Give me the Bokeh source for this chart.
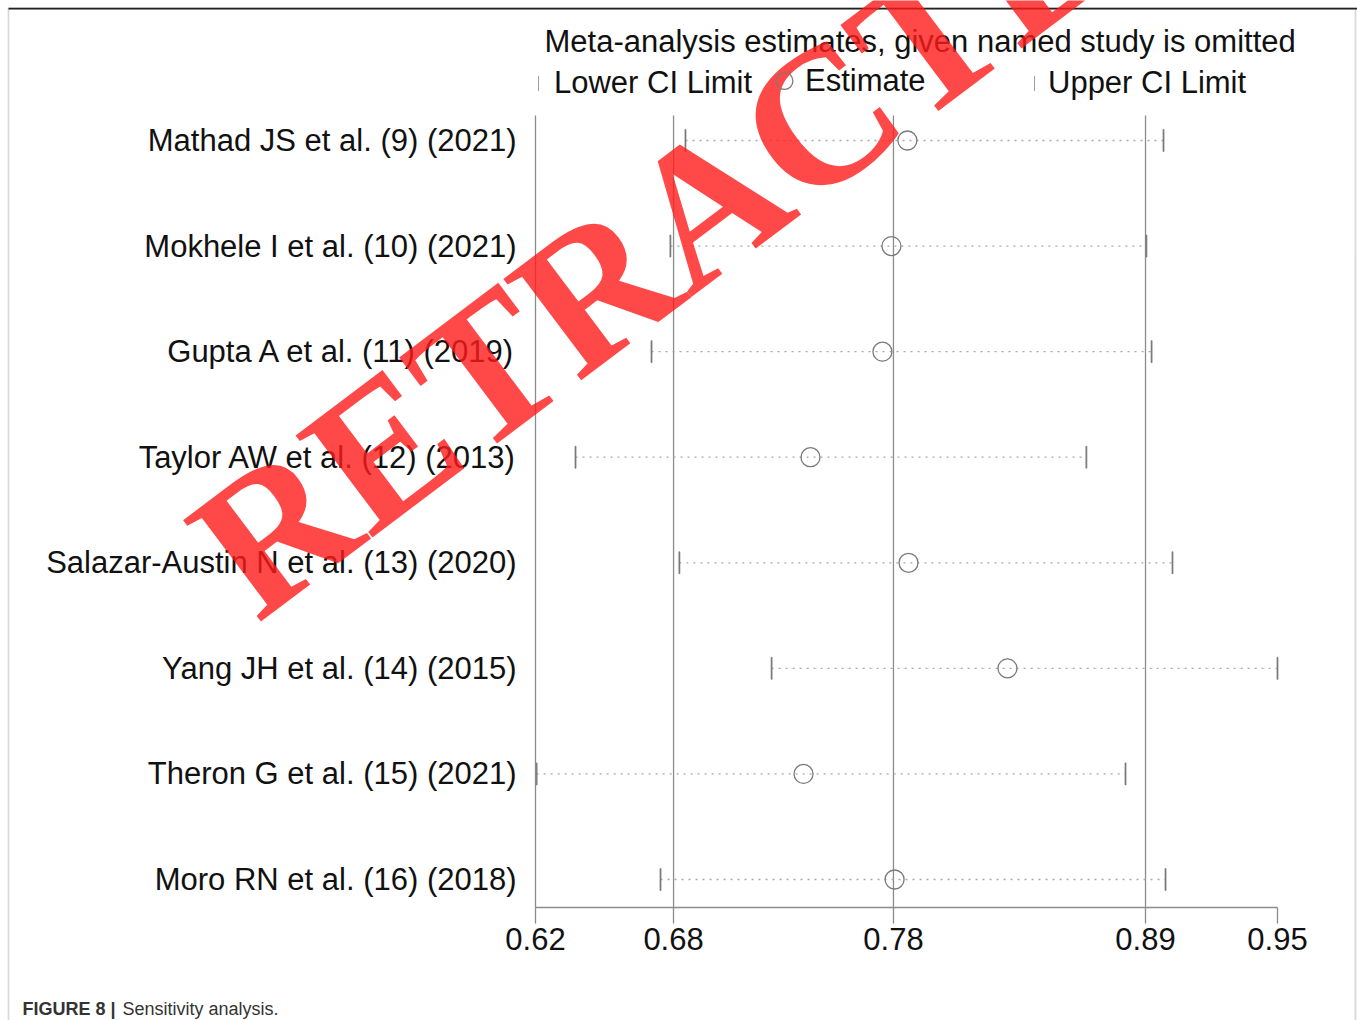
from bokeh.plotting import figure
from bokeh.models import (Range1d, FixedTicker, Label, Legend, LegendItem,
                          BoxAnnotation, ColumnDataSource)
from bokeh.embed import file_html
from bokeh.resources import INLINE

# ---------------- data ----------------
studies = [
    "Mathad JS et al. (9) (2021)",
    "Mokhele I et al. (10) (2021)",
    "Gupta A et al. (11) (2019)",
    "Taylor AW et al. (12) (2013)",
    "Salazar-Austin N et al. (13) (2020)",
    "Yang JH et al. (14) (2015)",
    "Theron G et al. (15) (2021)",
    "Moro RN et al. (16) (2018)",
]
estimate = [0.7854, 0.7783, 0.7743, 0.7423, 0.7859, 0.8299, 0.7392, 0.7797]
lower_ci = [0.6867, 0.6800, 0.6716, 0.6378, 0.6840, 0.7250, 0.6205, 0.6756]
upper_ci = [0.8993, 0.8917, 0.8940, 0.8650, 0.9033, 0.9500, 0.8824, 0.9002]

overall = [0.6814, 0.7792, 0.8913]          # overall lower CI, estimate, upper CI
tick_values = [0.62, 0.6814, 0.7792, 0.8913, 0.95]
tick_labels = ["0.62", "0.68", "0.78", "0.89", "0.95"]

title_text = "Meta-analysis estimates, given named study is omitted"
caption_bold = "FIGURE 8 |"
caption_text = "Sensitivity analysis."
watermark = "RETRACTED"

# ---------------- layout (pixels) ----------------
W, H = 1357, 1020
PLOT_L, PLOT_R = 535, 1277          # x pixel of first / last tick
PLOT_T, PLOT_B = 115, 907           # y pixel of top / bottom of plot region
ROW_TOP, ROW_BOT = 140, 879         # y pixel of first / last study row

n = len(studies)
ypos = [n - i for i in range(n)]
px_x = (PLOT_R - PLOT_L) / (tick_values[-1] - tick_values[0])
px_y = (ROW_BOT - ROW_TOP) / (n - 1)
x_start = tick_values[0] - PLOT_L / px_x
x_end = tick_values[-1] + (W - PLOT_R) / px_x
y_start = 1 - (H - ROW_BOT) / px_y
y_end = n + ROW_TOP / px_y
y_plot_bot = 1 - (PLOT_B - ROW_BOT) / px_y
y_plot_top = n + (ROW_TOP - PLOT_T) / px_y
cap_half = 11 / px_y

src = ColumnDataSource(dict(
    y=ypos, est=estimate, lo=lower_ci, hi=upper_ci,
    y0=[v - cap_half for v in ypos], y1=[v + cap_half for v in ypos],
))

FONT = "Liberation Sans"
GRAY = "#8c8c8c"
CAP = "#7a7a7a"

p = figure(width=W, height=H, output_backend="svg", toolbar_location=None,
           x_range=Range1d(x_start, x_end), y_range=Range1d(y_start, y_end),
           min_border=0, min_border_left=0, min_border_right=0,
           min_border_top=0, min_border_bottom=0)
p.grid.visible = False
p.outline_line_color = None
p.background_fill_color = "white"
p.border_fill_color = "white"

# x axis
xa = p.xaxis[0]
xa.fixed_location = y_plot_bot
xa.bounds = (tick_values[0], tick_values[-1])
xa.ticker = FixedTicker(ticks=tick_values)
xa.major_label_overrides = {v: l for v, l in zip(tick_values, tick_labels)}
xa.axis_line_color = GRAY
xa.axis_line_width = 1.3
xa.major_tick_line_color = GRAY
xa.major_tick_line_width = 1.3
xa.major_tick_in = 0
xa.major_tick_out = 16
xa.minor_tick_line_color = None
xa.major_label_text_font = FONT
xa.major_label_text_font_size = "31px"
xa.major_label_text_color = "#111111"
xa.major_label_standoff = 4

# y axis (study names)
ya = p.yaxis[0]
ya.fixed_location = tick_values[0]
ya.bounds = (y_plot_bot, y_plot_top)
ya.ticker = FixedTicker(ticks=ypos)
ya.major_label_overrides = {y: s for y, s in zip(ypos, studies)}
ya.axis_line_color = GRAY
ya.axis_line_width = 1.3
ya.major_tick_line_color = None
ya.minor_tick_line_color = None
ya.major_tick_in = 0
ya.major_tick_out = 0
ya.major_label_text_font = FONT
ya.major_label_text_font_size = "31px"
ya.major_label_text_color = "#111111"
ya.major_label_standoff = 19

# reference lines at overall lower CI, estimate, upper CI
p.segment(x0=overall, x1=overall, y0=[y_plot_bot] * 3, y1=[y_plot_top] * 3,
          line_color=GRAY, line_width=1.3)

# dotted CI lines
p.segment(x0="lo", x1="hi", y0="y", y1="y", source=src,
          line_color="#a8a8a8", line_width=1.3, line_dash="2 5")

# caps
lo_r = p.vbar(x="lo", width=0.0005, bottom="y0", top="y1", source=src,
              fill_color=CAP, line_color=CAP, line_width=0.6)
hi_r = p.vbar(x="hi", width=0.0005, bottom="y0", top="y1", source=src,
              fill_color=CAP, line_color=CAP, line_width=0.6)

# estimates
est_r = p.scatter(x="est", y="y", source=src, marker="circle", size=19,
                  fill_color=None, line_color=CAP, line_width=1.3)

# legends (three single-item legends); location = bottom-left corner
def mk_legend(label, rend, loc, gw, gh, standoff):
    lg = Legend(items=[LegendItem(label=label, renderers=[rend])],
                location=loc, glyph_width=gw, glyph_height=gh,
                label_standoff=standoff, padding=0, margin=0, spacing=0,
                border_line_color=None, background_fill_alpha=0,
                label_text_font=FONT, label_text_font_size="31px",
                label_text_color="#111111")
    p.add_layout(lg, "center")

mk_legend("Lower CI Limit", lo_r, (538, H - 101), 1, 18, 15)
mk_legend("Estimate", est_r, (763, H - 103), 42, 45, 0)
mk_legend("Upper CI Limit", hi_r, (1034, H - 101), 1, 18, 13)

# legend title
p.add_layout(Label(x=544, y=H - 40.5, x_units="screen", y_units="screen", text=title_text,
                   text_font=FONT, text_font_size="31px", text_color="#111111",
                   text_baseline="middle", text_align="left"))

# caption
p.add_layout(Label(x=22, y=H - 1008.5, x_units="screen", y_units="screen", text=caption_bold,
                   text_font=FONT, text_font_style="bold", text_font_size="18px",
                   text_color="#333333", text_baseline="middle"))
p.add_layout(Label(x=122, y=H - 1008.5, x_units="screen", y_units="screen", text=caption_text,
                   text_font=FONT, text_font_size="18px",
                   text_color="#333333", text_baseline="middle"))

# page border
p.add_layout(BoxAnnotation(left=8, right=1355, top=H - 8, bottom=-50,
                           left_units="screen", right_units="screen",
                           top_units="screen", bottom_units="screen",
                           fill_alpha=0, line_color="#808080", line_width=1.8))
p.add_layout(BoxAnnotation(left=8, right=W, top=H - 7.2, bottom=H - 9,
                           left_units="screen", right_units="screen",
                           top_units="screen", bottom_units="screen",
                           fill_color="#222222", fill_alpha=1, line_color=None))

# watermark
p.add_layout(Label(x=217, y=H - 571, x_units="screen", y_units="screen", text=watermark,
                   angle=37, angle_units="deg", text_font="Liberation Serif",
                   text_font_style="bold", text_font_size="195px",
                   text_color="#ff1a1a", text_alpha=0.8,
                   text_baseline="middle", text_align="left"))

open("out.html", "w").write(file_html(p, INLINE))
